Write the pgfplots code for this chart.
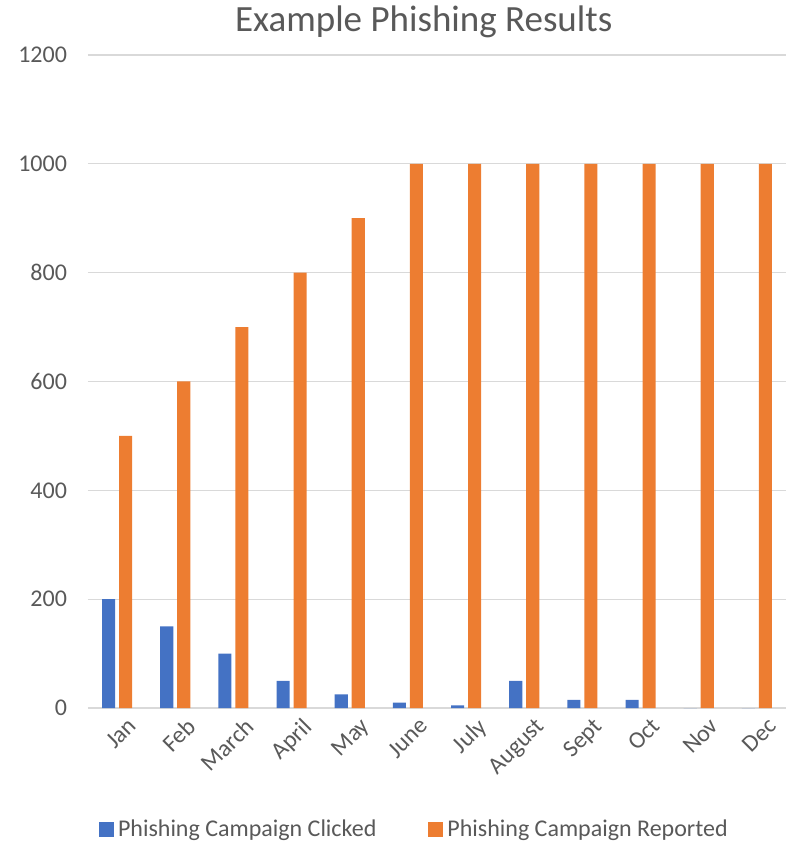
\documentclass[border=0pt]{standalone}
\usepackage{fontspec}
\setmainfont{Carlito}
\usepackage{pgfplots}
\pgfplotsset{compat=1.18}
\definecolor{cblue}{HTML}{4472C4}
\definecolor{corange}{HTML}{ED7D31}
\definecolor{cgrid}{HTML}{D9D9D9}
\definecolor{ctext}{HTML}{595959}
\begin{document}
\begin{tikzpicture}
\begin{axis}[name=ax, scale only axis, width=349pt, height=326.5pt,
 xmin=-0.5, xmax=11.5, ymin=0, ymax=1200, ytick={0,200,...,1200},
 xtick={0,...,11},
 xticklabels={Jan,Feb,March,April,May,June,July,August,Sept,Oct,Nov,Dec},
 axis line style={draw=none}, major tick length=0pt,
 ymajorgrids, grid style={cgrid, line width=0.6pt},
 tick label style={font=\fontsize{12}{14}\selectfont, text=ctext},
 /pgf/number format/assume math mode=true,
 /pgf/number format/set thousands separator={},
 yticklabel style={xshift=-7pt},
 xticklabel style={rotate=45, anchor=north east, xshift=4pt, yshift=-3pt},
 title={Example Phishing Results},
 title style={at={(rel axis cs:0.481,1)}, anchor=center, yshift=10.5pt,
   font=\fontsize{18.5}{22}\selectfont, text=ctext},
 ybar,
 legend columns=2,
 legend style={at={(rel axis cs:0.469,-0.187)}, anchor=center, draw=none,
   font=\fontsize{12}{14}\selectfont, text=ctext,
   /tikz/every even column/.append style={column sep=24pt}},
 legend image code/.code={\fill[#1, draw=none] (0pt,-3.5pt) rectangle (7.5pt,4pt);},
]
\addplot[fill=cblue, draw=none, bar width=0.225, bar shift=-0.146] coordinates {
 (0,200) (1,150) (2,100) (3,50) (4,25) (5,10) (6,5) (7,50) (8,15) (9,15) (10,0) (11,0)};
\addlegendentry{Phishing Campaign Clicked}
\addplot[fill=corange, draw=none, bar width=0.225, bar shift=0.146] coordinates {
 (0,500) (1,600) (2,700) (3,800) (4,900) (5,1000) (6,1000) (7,1000) (8,1000) (9,1000) (10,1000) (11,1000)};
\addlegendentry{Phishing Campaign Reported}
\end{axis}
\path (ax.south west) ++(-44pt,-67.5pt) coordinate (bl);
\path (ax.north east) ++(0pt,27.5pt) coordinate (tr);
\pgfresetboundingbox
\path[use as bounding box] (bl) rectangle (tr);
\end{tikzpicture}
\end{document}
